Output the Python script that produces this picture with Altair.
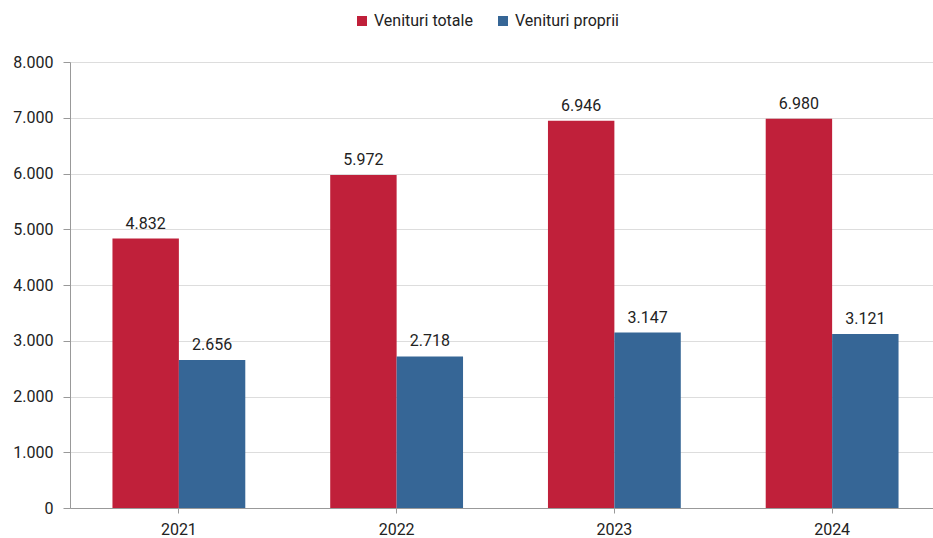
import altair as alt
import pandas as pd

years = ["2021", "2022", "2023", "2024"]
series = ["Venituri totale", "Venituri proprii"]
totale = [4832, 5972, 6946, 6980]
proprii = [2656, 2718, 3147, 3121]
colors = ["#C0203A", "#366696"]

rows = []
for i, y in enumerate(years):
    rows.append({"an": y, "serie": series[0], "val": totale[i]})
    rows.append({"an": y, "serie": series[1], "val": proprii[i]})
df = pd.DataFrame(rows)
df["lbl"] = df["val"].map(lambda v: f"{v:,}".replace(",", "."))

FONT = "Roboto"
FS = 16

x = alt.X("an:N", title=None, sort=years,
          scale=alt.Scale(paddingInner=0.39, paddingOuter=0.195, range=[0, 871]),
          axis=alt.Axis(labelAngle=0, labelFontSize=FS, labelFont=FONT, labelColor="#222",
                        domainColor="#999", tickColor="#999", tickSize=5, labelPadding=8,
                        grid=False))
y = alt.Y("val:Q", title=None,
          scale=alt.Scale(domain=[0, 8000]),
          axis=alt.Axis(values=list(range(0, 8001, 1000)), labelFontSize=FS, labelFont=FONT,
                        labelColor="#222", domainColor="#999", tickColor="#999", tickSize=7,
                        labelPadding=10, gridColor="#DDDDDD",
                        labelExpr="replace(format(datum.value, ','), ',', '.')"))
xo = alt.XOffset("serie:N", sort=series)

bars = alt.Chart(df).mark_bar().encode(
    x=x, y=y, xOffset=xo,
    color=alt.Color("serie:N", sort=series, title=None,
                    scale=alt.Scale(domain=series, range=colors),
                    legend=alt.Legend(orient="none", direction="horizontal",
                                      legendX=284, legendY=-49,
                                      symbolType="square", symbolSize=100,
                                      symbolStrokeWidth=0,
                                      labelFontSize=FS, labelFont=FONT, labelColor="#222",
                                      columnPadding=22)),
)
text = alt.Chart(df).mark_text(dy=-10, baseline="alphabetic", fontSize=FS, font=FONT,
                               color="#222").encode(
    x=x, y=y, xOffset=xo, text="lbl:N")

chart = alt.layer(bars, text).properties(
    width=863, height=446,
    padding={"left": 70, "top": 62, "right": 0, "bottom": 30},
    autosize=alt.AutoSizeParams(type="none"),
).configure_view(stroke=None).configure_axis(domainWidth=1)

chart.save("out.html", embed_options={"renderer": "svg", "actions": False})
